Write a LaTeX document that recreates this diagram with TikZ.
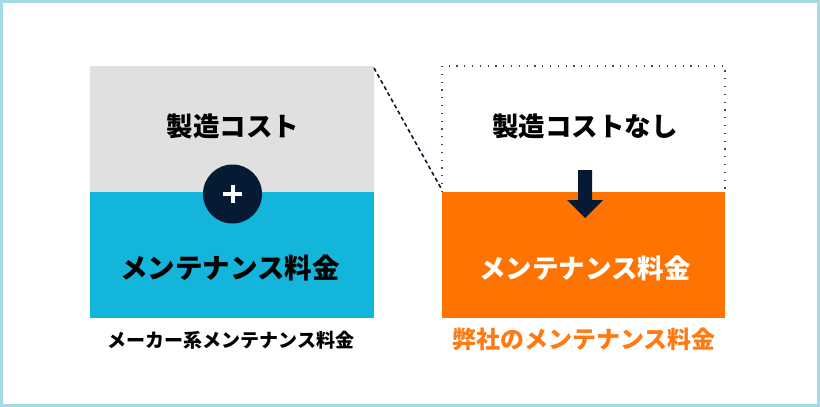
\documentclass[tikz,border=0pt]{standalone}
\usepackage{fontspec}
\newfontfamily\cjk{Noto Sans CJK JP}
\definecolor{framec}{HTML}{A5D9E4}
\definecolor{grayc}{HTML}{E0E0E0}
\definecolor{bluec}{HTML}{13B5DA}
\definecolor{navyc}{HTML}{061B33}
\definecolor{orangec}{HTML}{FF7300}
\definecolor{orangetxt}{HTML}{FF7A12}
\begin{document}
\begin{tikzpicture}[x=1pt,y=-1pt,
  boxtxt/.style={font=\cjk\bfseries\fontsize{26.5}{30}\selectfont, text=black, inner sep=0pt},
  labeltxt/.style={font=\cjk\bfseries, inner sep=0pt}]
\useasboundingbox (0,0) rectangle (820,407);
\fill[white] (0,0) rectangle (820,407);
\draw[framec, line width=3pt] (1.5,1.5) rectangle (818.5,405.5);
% left
\fill[grayc] (90,66) rectangle (374,192);
\fill[bluec] (90,192) rectangle (374,318);
\node[boxtxt] (lcost) at (233,126) {製造コスト};
\node[boxtxt, font=\cjk\bfseries\fontsize{27.5}{30}\selectfont] (lmaint) at (230,268) {メンテナンス料金};
\node[circle, fill=navyc, minimum size=59pt, inner sep=0pt] (plus) at (232.5,194) {};
\draw[white, line width=4pt] ([xshift=-9.3pt]plus.center) -- ([xshift=9.3pt]plus.center);
\draw[white, line width=4pt] ([yshift=-9.3pt]plus.center) -- ([yshift=9.3pt]plus.center);
\node[labeltxt, font=\cjk\bfseries\fontsize{19}{22}\selectfont] (llabel) at (231,340) {メーカー系メンテナンス料金};
% right
\fill[orangec] (442,192) rectangle (725,318);
\draw[navyc!80, line width=1.2pt, dash pattern=on 1.2pt off 6.6pt] (442,192) -- (442,66) -- (725,66) -- (725,192);
\coordinate (ltr) at (374,68);
\coordinate (rbl) at (442,190);
\draw[navyc, line width=1.6pt, dash pattern=on 4pt off 3pt] (ltr) -- (rbl);
\node[boxtxt] (rcost) at (585,126) {製造コストなし};
\node[boxtxt, text=white] (rmaint) at (585,268) {メンテナンス料金};
\fill[navyc] (578,170) -- (592,170) -- (592,200) -- (603,200) -- (585,218) -- (567,200) -- (578,200) -- cycle;
\node[labeltxt, text=orangetxt, font=\cjk\bfseries\fontsize{24}{27}\selectfont] (rlabel) at (584,339) {弊社のメンテナンス料金};
\end{tikzpicture}
\end{document}
